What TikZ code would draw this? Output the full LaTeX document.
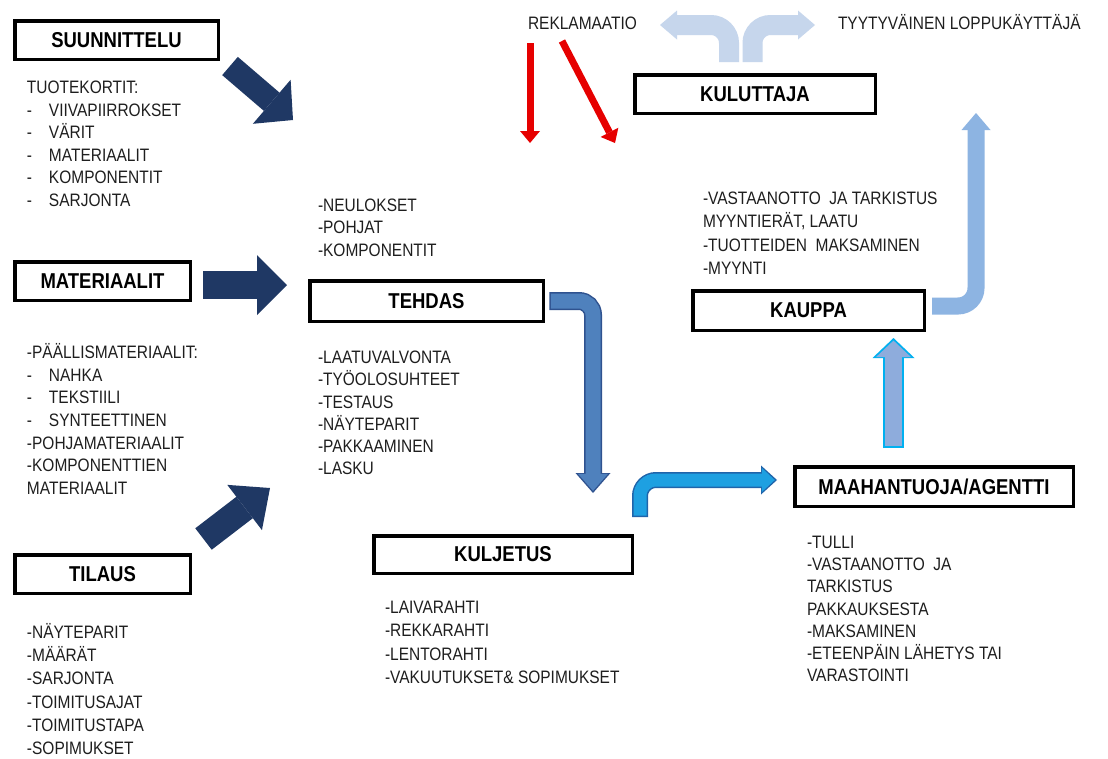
\documentclass[tikz,border=0pt]{standalone}
\usepackage{fontspec}
\setmainfont{Liberation Sans}[FakeStretch=0.86]
\usetikzlibrary{arrows.meta}

\definecolor{navyc}{RGB}{31,56,100}
\definecolor{tehdasfill}{RGB}{79,129,189}
\definecolor{tehdasedge}{RGB}{47,82,143}
\definecolor{cyanfill}{RGB}{30,160,225}
\definecolor{cyanedge}{RGB}{32,100,170}
\definecolor{midblue}{RGB}{141,180,226}
\definecolor{paleblue}{RGB}{198,214,236}
\definecolor{upfill}{RGB}{142,172,220}
\definecolor{upedge}{RGB}{0,176,240}
\definecolor{redarrow}{RGB}{230,0,0}
\definecolor{txtgray}{RGB}{30,30,30}

\newcommand\itm{\makebox[22pt][l]{-}}
\newcommand\listat[5]{%
  \foreach \lstitem [count=\i from 0] in {#5}{%
    \node[txt] (#1\i) at (#2,{#3+6.4+\i*#4}) {\lstitem};}}

\begin{document}
\begin{tikzpicture}[x=1pt,y=-1pt,
  box/.style={draw=black, line width=3.5pt, fill=white, inner sep=0pt, outer sep=0pt,
    font=\fontsize{21.5}{24}\selectfont\bfseries, text=black},
  txt/.style={anchor=base west, inner sep=0pt, outer sep=0pt,
    font=\fontsize{18}{22}\selectfont, text=txtgray},
  tip/.style n args={2}{-{Triangle[width=#1,length=#2,line width=0pt]}}
]
\useasboundingbox (0,0) rectangle (1108,758);
\fill[white] (0,0) rectangle (1108,758);

% ---------- boxes ----------
\node[box, minimum width=203.5pt, minimum height=38.5pt] (suun) at (116.5,40) {SUUNNITTELU};
\node[box, minimum width=175.5pt, minimum height=38.5pt] (mat) at (102.5,281) {MATERIAALIT};
\node[box, minimum width=175.5pt, minimum height=38.5pt] (til) at (102.5,574) {TILAUS};
\node[box, minimum width=233.5pt, minimum height=40.5pt] (teh) at (426.5,301) {TEHDAS};
\node[box, minimum width=258.5pt, minimum height=37.5pt] (kul) at (503,554.5) {KULJETUS};
\node[box, minimum width=278.5pt, minimum height=39.5pt] (maa) at (934,486.5) {MAAHANTUOJA/AGENTTI};
\node[box, minimum width=231.5pt, minimum height=39.5pt] (kau) at (808.5,310.5) {KAUPPA};
\node[box, minimum width=240.5pt, minimum height=38.5pt] (kulu) at (755,94) {KULUTTAJA};

% ---------- texts ----------
\listat{s}{27}{87}{22.6}{TUOTEKORTIT:, \itm VIIVAPIIRROKSET, \itm VÄRIT, \itm MATERIAALIT, \itm KOMPONENTIT, \itm SARJONTA}
\listat{m}{27}{352}{22.7}{-PÄÄLLISMATERIAALIT:, \itm NAHKA, \itm TEKSTIILI, \itm SYNTEETTINEN, -POHJAMATERIAALIT, -KOMPONENTTIEN, MATERIAALIT}
\listat{t}{27}{632}{23.2}{-NÄYTEPARIT, -MÄÄRÄT, -SARJONTA, -TOIMITUSAJAT, -TOIMITUSTAPA, -SOPIMUKSET}
\listat{ha}{318}{205}{22.5}{-NEULOKSET, -POHJAT, -KOMPONENTIT}
\listat{hb}{318}{357}{22.3}{-LAATUVALVONTA, -TYÖOLOSUHTEET, -TESTAUS, -NÄYTEPARIT, -PAKKAAMINEN, -LASKU}
\listat{k}{385}{607}{23.3}{-LAIVARAHTI, -REKKARAHTI, -LENTORAHTI, -VAKUUTUKSET\& SOPIMUKSET}
\listat{a}{807}{542}{22.2}{-TULLI, -VASTAANOTTO~ JA, TARKISTUS, PAKKAUKSESTA, -MAKSAMINEN, -ETEENPÄIN LÄHETYS TAI, VARASTOINTI}
\listat{p}{703}{198}{23.3}{-VASTAANOTTO~ JA TARKISTUS, {MYYNTIERÄT, LAATU}, -TUOTTEIDEN~ MAKSAMINEN, -MYYNTI}
\node[txt] (rekl) at (528,29.4) {REKLAMAATIO};
\node[txt] (tyyt) at (838,29.4) {TYYTYVÄINEN LOPPUKÄYTTÄJÄ};

% ---------- coordinates ----------
\coordinate (n1s) at (230,66);   \coordinate (n1t) at (293,120);
\coordinate (n2s) at (203,285);  \coordinate (n2t) at (287,285);
\coordinate (n3s) at (203.5,539);\coordinate (n3t) at (270,488);
\coordinate (r1s) at (530,43);   \coordinate (r1t) at (530,143);
\coordinate (r2s) at (562,41);   \coordinate (r2t) at (615,143);
\coordinate (pls) at (729,62);   \coordinate (plc) at (729,25);  \coordinate (plt) at (660,25);
\coordinate (prs) at (752.5,62); \coordinate (prc) at (752.5,25);\coordinate (prt) at (815,25);
\coordinate (kps) at (932,306);  \coordinate (kpc) at (976,306); \coordinate (kpt) at (976,113);
\coordinate (ups) at (893.5,448);\coordinate (upt) at (893.5,338);
\coordinate (ths) at ([xshift=6pt]teh.east); \coordinate (thc) at (593,301); \coordinate (tht) at (593,493);
\coordinate (kjs) at (640,517);  \coordinate (kjc) at (640,480); \coordinate (kjt) at (777,480);

% ---------- navy arrows ----------
\draw[navyc, line width=24pt, tip={58pt}{28pt}] (n1s) -- (n1t);
\draw[navyc, line width=28pt, tip={60pt}{30pt}] (n2s) -- (n2t);
\draw[navyc, line width=27pt, tip={57pt}{32pt}] (n3s) -- (n3t);

% ---------- red arrows ----------
\draw[redarrow, line width=7pt, tip={20pt}{12pt}] (r1s) -- (r1t);
\draw[redarrow, line width=7pt, tip={20pt}{12pt}] (r2s) -- (r2t);

% ---------- pale split arrow ----------
\draw[paleblue, line width=20pt, rounded corners=18pt, tip={29pt}{17pt}] (pls) -- (plc) -- (plt);
\draw[paleblue, line width=20pt, rounded corners=18pt, tip={29pt}{17pt}] (prs) -- (prc) -- (prt);

% ---------- KAUPPA -> KULUTTAJA ----------
\draw[midblue, line width=17pt, rounded corners=18pt, tip={29pt}{17pt}] (kps) -- (kpc) -- (kpt);

% ---------- MAAHANTUOJA -> KAUPPA ----------
\draw[upedge, line width=21pt, tip={42pt}{20pt}] (ups) -- (upt);
\draw[upfill, line width=17pt, shorten <=2pt, shorten >=2.6pt, tip={35pt}{16.5pt}] (ups) -- (upt);

% ---------- TEHDAS -> KULJETUS ----------
\draw[tehdasedge, line width=18pt, rounded corners=14pt, tip={35pt}{20pt}] (ths) -- (thc) -- (tht);
\draw[tehdasfill, line width=15pt, rounded corners=14pt, shorten <=1.5pt, shorten >=2.2pt, tip={30pt}{17pt}] (ths) -- (thc) -- (tht);

% ---------- KULJETUS -> MAAHANTUOJA ----------
\draw[cyanedge, line width=16pt, rounded corners=16pt, tip={29pt}{16pt}] (kjs) -- (kjc) -- (kjt);
\draw[cyanfill, line width=13pt, rounded corners=16pt, shorten <=1.5pt, shorten >=2.2pt, tip={24pt}{13pt}] (kjs) -- (kjc) -- (kjt);
\end{tikzpicture}
\end{document}
